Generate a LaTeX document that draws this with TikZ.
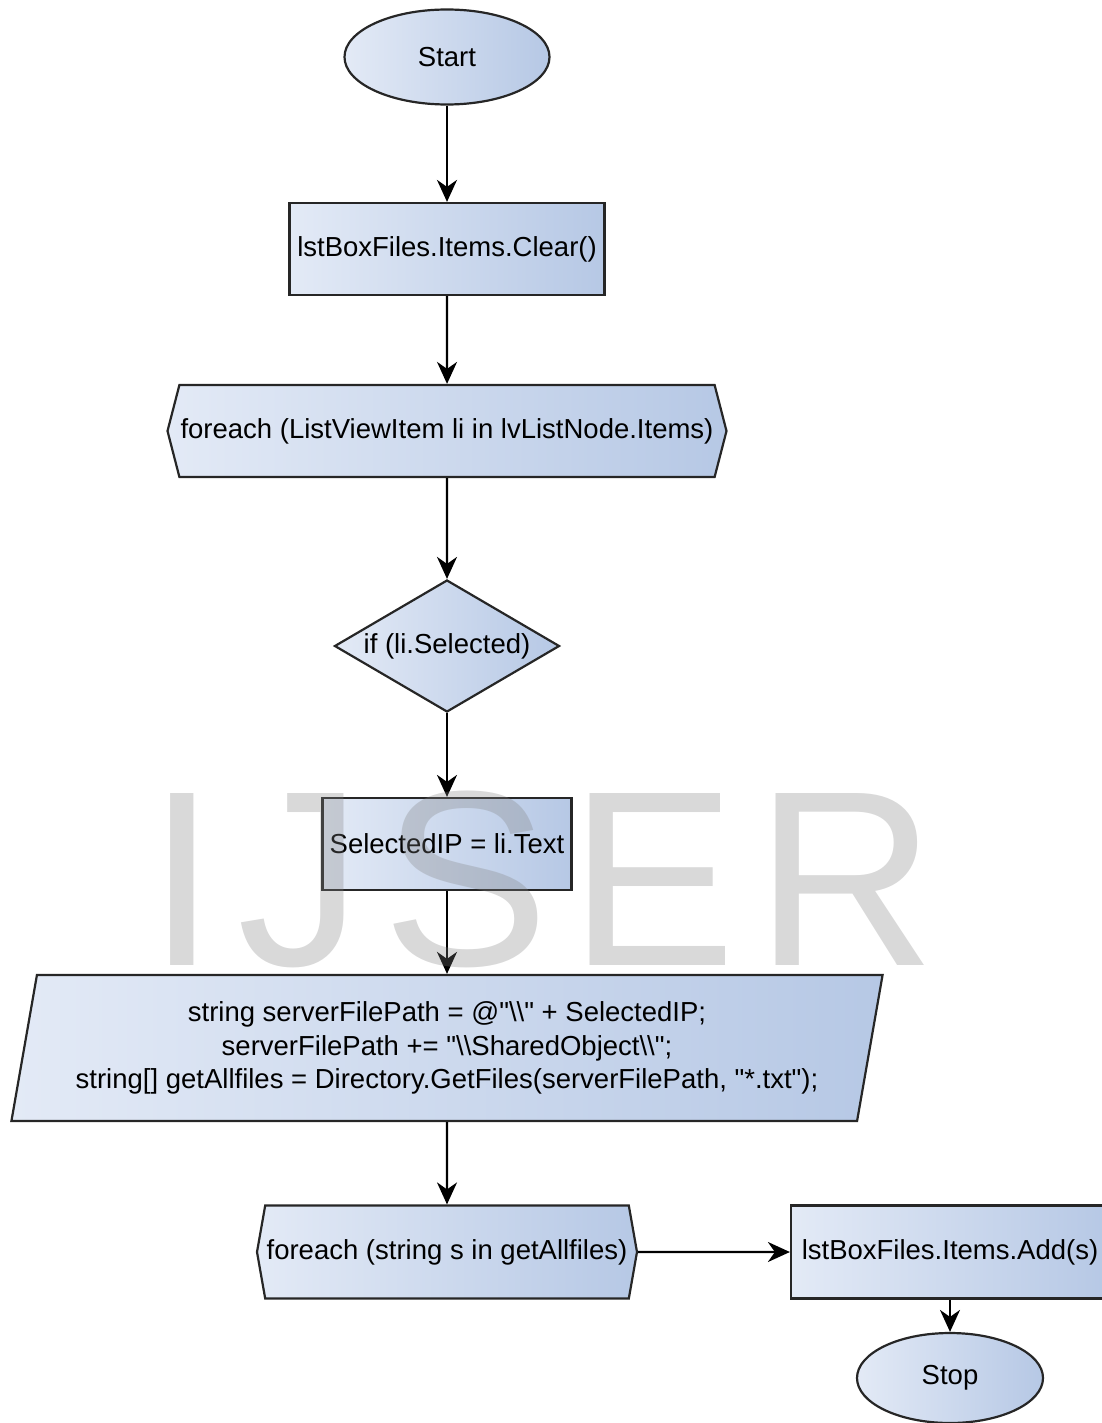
\documentclass[tikz,border=0pt]{standalone}
\usepackage{fontspec}
\setmainfont{Liberation Sans}[Ligatures=TeXOff]
\usetikzlibrary{shapes.geometric,shapes.symbols,arrows.meta}
\definecolor{boxL}{RGB}{227,234,246}
\definecolor{boxR}{RGB}{182,200,229}
\newcommand{\bs}{\textbackslash}
\begin{document}
\begin{tikzpicture}[x=1pt,y=-1pt,
  blk/.style={font=\fontsize{27.5}{33.5}\selectfont,draw=black!85,line width=2.2pt,
    left color=boxL,right color=boxR,inner sep=0pt},
  startstop/.style={ellipse},
  process/.style={rectangle},
  foreachbox/.style={signal,signal to=west and east},
  decision/.style={diamond,aspect=1.7},
  data/.style={trapezium,trapezium left angle=76,trapezium right angle=104,
    trapezium stretches=true,align=center},
  flow/.style={line width=2.2pt,-{Stealth[length=22pt,width=20pt,inset=7pt]}}]
\useasboundingbox (0,0) rectangle (1102,1423);
\def\cx{447}
\node[blk,startstop,minimum width=205pt,minimum height=95pt] (start) at (\cx,57) {Start};
\node[blk,process,minimum width=315pt,minimum height=92pt] (clear) at (\cx,249) {lstBoxFiles.Items.Clear()};
\node[blk,foreachbox,signal pointer angle=151,minimum width=559pt,minimum height=92pt] (outer) at (\cx,431) {foreach (ListViewItem li in lvListNode.Items)};
\node[blk,decision,minimum width=225pt,minimum height=132pt] (sel) at (\cx,646) {if (li.Selected)};
\node[blk,process,minimum width=249pt,minimum height=92pt] (ip) at (\cx,844) {SelectedIP = li.Text};
\node[blk,data,minimum width=872pt,minimum height=146pt] (path) at (\cx,1048)
  {string serverFilePath = @"\bs\bs" + SelectedIP;\\
   serverFilePath += "\bs\bs SharedObject\bs\bs";\\
   string[] getAllfiles = Directory.GetFiles(serverFilePath, "*.txt");};
\node[blk,foreachbox,signal pointer angle=160,minimum width=380pt,minimum height=93pt] (inner) at (\cx,1252) {foreach (string s in getAllfiles)};
\node[blk,process,minimum width=318pt,minimum height=93pt] (add) at (950,1252) {lstBoxFiles.Items.Add(s)};
\node[blk,startstop,minimum width=186pt,minimum height=90pt] (stop) at (950,1378) {Stop};
\foreach \a/\b in {start/clear,clear/outer,outer/sel,sel/ip,ip/path,path/inner,inner/add,add/stop}
  \draw[flow] (\a) -- (\b);
\node[font=\fontsize{250}{250}\selectfont\addfontfeature{LetterSpace=8},text=black!50,
  opacity=.3,inner sep=0pt,anchor=base] (mark) at (542,965) {IJSER};
\end{tikzpicture}
\end{document}
